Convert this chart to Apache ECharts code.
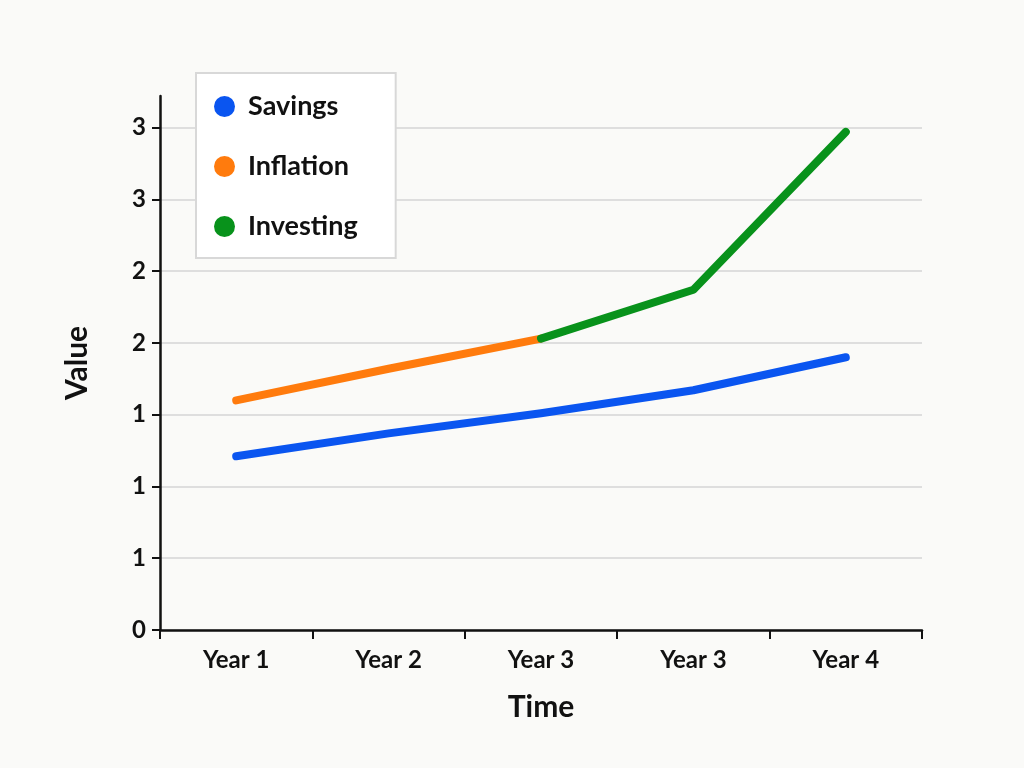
<!DOCTYPE html>
<html>
<head>
<meta charset="utf-8">
<script src="https://cdn.jsdelivr.net/npm/echarts@6/dist/echarts.min.js"></script>
<style>
  html, body { margin: 0; padding: 0; background: #fafaf8; }
  #chart { width: 1024px; height: 768px; }
</style>
</head>
<body>
<div id="chart"></div>
<script>
const categories = ["Year 1", "Year 2", "Year 3", "Year 3", "Year 4"];
const savings = [1.21, 1.37, 1.51, 1.67, 1.90];
const inflation = [1.60, 1.82, 2.03, null, null];
const investing = [null, null, 2.03, 2.37, 3.47];
const tickValues = [0, 0.5, 1, 1.5, 2, 2.5, 3, 3.5];
const tickLabels = ["0", "1", "1", "1", "2", "2", "3", "3"];

const font = "Lato, 'Open Sans', sans-serif";
const myChart = echarts.init(document.getElementById("chart"));

function lineSeries(name, data, color, z) {
    return {
        name: name,
        type: "line",
        data: data,
        z: z,
        showSymbol: false,
        symbol: "circle",
        connectNulls: false,
        lineStyle: { width: 8, color: color, cap: "round", join: "round" },
        itemStyle: { color: color },
    };
}

const option = {
    backgroundColor: "#fafaf8",
    animation: false,
    textStyle: { fontFamily: font },
    legend: {
        orient: "vertical",
        left: 196,
        top: 73,
        itemGap: 33,
        itemWidth: 21,
        itemHeight: 21,
        icon: "circle",
        padding: [20, 38, 18, 18],
        backgroundColor: "#ffffff",
        borderColor: "#d8d8d8",
        borderWidth: 2,
        textStyle: { fontSize: 27, color: "#111", fontWeight: "bold", fontFamily: font, padding: [0, 0, 0, 8] },
        data: ["Savings", "Inflation", "Investing"],
    },
    grid: { left: 160, right: 102, top: 96, bottom: 138, containLabel: false },
    xAxis: {
        type: "category",
        data: categories,
        boundaryGap: true,
        name: "Time",
        nameLocation: "middle",
        nameGap: 62,
        nameTextStyle: { fontSize: 30, color: "#111", fontWeight: "bold", fontFamily: font },
        axisLine: { lineStyle: { color: "#111", width: 2.5 } },
        axisTick: { show: true, length: 9, lineStyle: { color: "#111", width: 2 } },
        axisLabel: { fontSize: 24, color: "#111", fontWeight: "bold", margin: 18, fontFamily: font },
    },
    yAxis: {
        type: "value",
        min: 0,
        max: 3.72,
        interval: 0.5,
        name: "Value",
        nameLocation: "middle",
        nameGap: 68,
        nameTextStyle: { fontSize: 30, color: "#111", fontWeight: "bold", fontFamily: font },
        axisLine: { show: true, lineStyle: { color: "#111", width: 2.5 } },
        axisTick: { show: true, length: 8, customValues: tickValues, lineStyle: { color: "#111", width: 2 } },
        axisLabel: {
            fontSize: 24,
            color: "#111",
            fontWeight: "bold",
            margin: 14,
            fontFamily: font,
            customValues: tickValues,
            formatter: function (v) {
                const i = tickValues.indexOf(v);
                return i >= 0 ? tickLabels[i] : "";
            },
        },
        splitLine: {
            show: true,
            lineStyle: {
                color: ["#dedede", "#dedede", "#dedede", "#dedede", "#dedede", "#dedede", "#dedede", "#dedede", "rgba(0,0,0,0)"],
                width: 2,
            },
        },
    },
    series: [
        lineSeries("Savings", savings, "#0a55f0", 3),
        lineSeries("Inflation", inflation, "#ff7b0d", 2),
        lineSeries("Investing", investing, "#08921b", 4),
    ],
};

myChart.setOption(option);
</script>
</body>
</html>
